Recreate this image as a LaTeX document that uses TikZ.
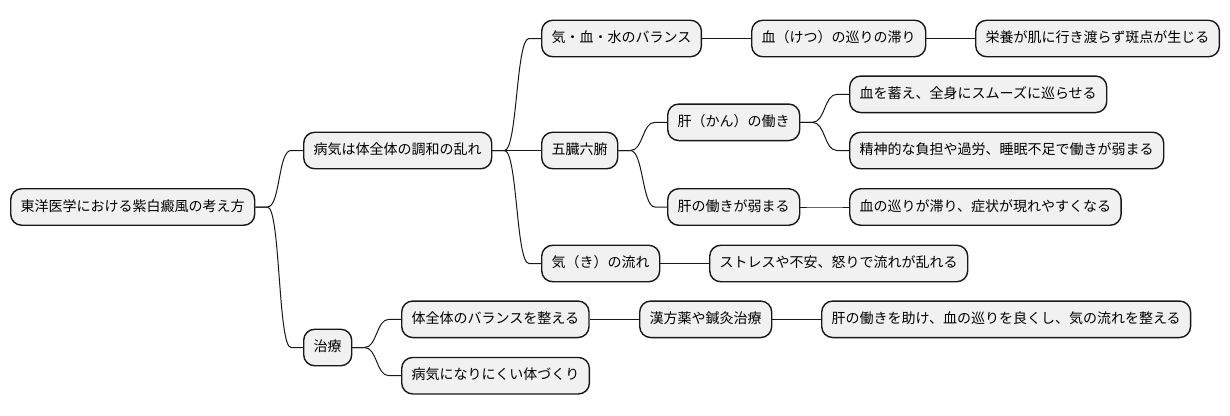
\documentclass[tikz,border=0pt]{standalone}
\usepackage{fontspec}
\newfontfamily\jp{Noto Sans CJK JP}
\definecolor{nodefill}{HTML}{F1F1F1}
\definecolor{linec}{HTML}{181818}
\tikzset{
  mm/.style={draw=linec, fill=nodefill, line width=1.4pt, rounded corners=11pt,
    anchor=west, inner xsep=10pt, inner ysep=0pt, minimum height=36.5pt,
    text height=10.5pt, text depth=2.5pt, font=\jp\fontsize{14}{17}\selectfont, text=black},
  edge/.style={draw=linec, line width=1pt}
}
\newcommand\mmedge[2]{\draw[edge] (#1.east) -- ([xshift=12pt]#1.east) .. controls ([xshift=25pt]#1.east) and ([xshift=-25pt]#2.west) .. ([xshift=-12pt]#2.west) -- (#2.west);}
\begin{document}
\begin{tikzpicture}[x=1pt,y=-1pt]
\useasboundingbox (0,0) rectangle (1230,415);
\node[mm] (root) at (10,207) {東洋医学における紫白癜風の考え方};
\node[mm] (a) at (303,150.5) {病気は体全体の調和の乱れ};
\node[mm] (b) at (303,347.5) {治療};
\node[mm] (a1) at (541,38.5) {気・血・水のバランス};
\node[mm] (a2) at (541,150.5) {五臓六腑};
\node[mm] (a3) at (541,263.5) {気（き）の流れ};
\node[mm] (a11) at (751,38.5) {血（けつ）の巡りの滞り};
\node[mm] (a111) at (975,38.5) {栄養が肌に行き渡らず斑点が生じる};
\node[mm] (a21) at (667,122.3) {肝（かん）の働き};
\node[mm] (a22) at (667,207) {肝の働きが弱まる};
\node[mm] (a211) at (849,94.3) {血を蓄え、全身にスムーズに巡らせる};
\node[mm] (a212) at (849,150.5) {精神的な負担や過労、睡眠不足で働きが弱まる};
\node[mm] (a221) at (849,207) {血の巡りが滞り、症状が現れやすくなる};
\node[mm] (a31) at (709,263.5) {ストレスや不安、怒りで流れが乱れる};
\node[mm] (b1) at (401,319.3) {体全体のバランスを整える};
\node[mm] (b2) at (401,375.7) {病気になりにくい体づくり};
\node[mm] (b11) at (639,319.3) {漢方薬や鍼灸治療};
\node[mm] (b111) at (821,319.3) {肝の働きを助け、血の巡りを良くし、気の流れを整える};
\mmedge{root}{a}
\mmedge{root}{b}
\mmedge{a}{a1}
\mmedge{a}{a2}
\mmedge{a}{a3}
\mmedge{a1}{a11}
\mmedge{a11}{a111}
\mmedge{a2}{a21}
\mmedge{a2}{a22}
\mmedge{a21}{a211}
\mmedge{a21}{a212}
\mmedge{a22}{a221}
\mmedge{a3}{a31}
\mmedge{b}{b1}
\mmedge{b}{b2}
\mmedge{b1}{b11}
\mmedge{b11}{b111}
\end{tikzpicture}
\end{document}
